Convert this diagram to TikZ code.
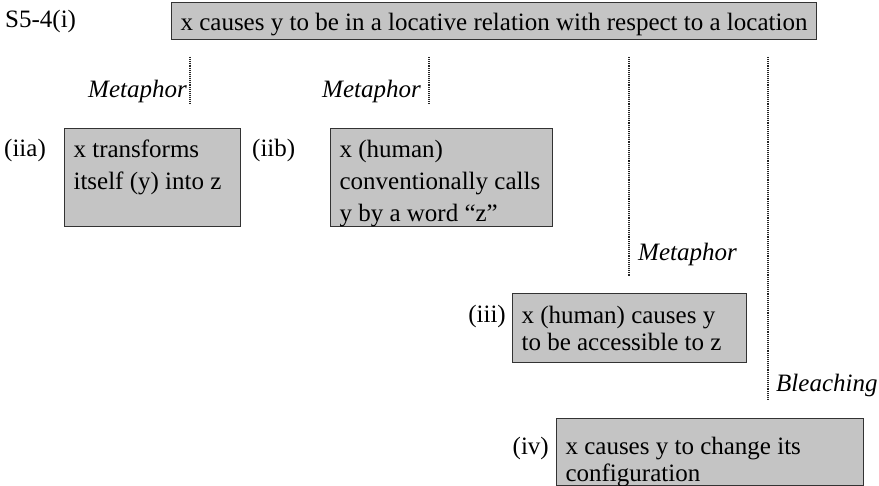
\documentclass[tikz,border=0pt]{standalone}
\usepackage{fontspec}
\setmainfont{Liberation Serif}

% text block inside a grey box: width, height, top gap, line skip, text
\newcommand\gtext[5]{\parbox[c][#2][t]{#1}{\fontsize{25}{#4}\selectfont
  \raggedright\leftskip=9pt\vspace*{#3}\strut #5}}

\tikzset{
  gbox/.style={draw=black!80, fill=black!23, line width=1.1pt,
    inner sep=0pt, anchor=north west},
  lab/.style={inner sep=0pt, font=\fontsize{25}{30}\selectfont},
  itlab/.style={lab, font=\fontsize{25}{30}\selectfont\itshape},
  dotline/.style={draw=black!85, line width=1.3pt, dash pattern=on 1pt off 0.9pt},
}

\begin{document}
\begin{tikzpicture}[x=1pt, y=-1pt]
  \useasboundingbox[fill=white] (0,0) rectangle (879,486);

  % source sense
  \node[lab, anchor=base west] (s54) at (5,28) {S5-4(i)};
  \node[gbox] (i) at (171,2)
    {\gtext{645pt}{37pt}{10pt}{25pt}{x causes y to be in a locative relation with respect to a location}};

  % extended senses
  \node[gbox] (iia) at (64,128)
    {\gtext{176pt}{98pt}{6.6pt}{32pt}{x transforms\\itself (y) into z}};
  \node[lab, anchor=base west] (liia) at (4,157) {(iia)};

  \node[gbox] (iib) at (330,128)
    {\gtext{222pt}{98pt}{6.6pt}{32pt}{x (human)\\conventionally calls\\y by a word ``z''}};
  \node[lab, anchor=base west] (liib) at (252,157) {(iib)};

  \node[gbox] (iii) at (512,293)
    {\gtext{234pt}{69pt}{11.5pt}{26.5pt}{x (human) causes y\\to be accessible to z}};
  \node[lab, anchor=base east] (liii) at (506,323) {(iii)};

  \node[gbox] (iv) at (556,418)
    {\gtext{307pt}{67pt}{17pt}{27pt}{x causes y to change its\\configuration}};
  \node[lab, anchor=base east] (liv) at (549,454) {(iv)};

  % extension paths
  \coordinate (p1a) at (190,57);  \coordinate (p1b) at (190,104);
  \coordinate (p2a) at (429,57);  \coordinate (p2b) at (429,103);
  \coordinate (p3a) at (629,57);  \coordinate (p3b) at (629,277);
  \coordinate (p4a) at (768,57);  \coordinate (p4b) at (768,400);
  \draw[dotline] (p1a) -- (p1b);
  \draw[dotline] (p2a) -- (p2b);
  \draw[dotline] (p3a) -- (p3b);
  \draw[dotline] (p4a) -- (p4b);

  \node[itlab, anchor=base east] (m1) at (187,98) {Metaphor};
  \node[itlab, anchor=base east] (m2) at (421,98) {Metaphor};
  \node[itlab, anchor=base west] (m3) at (638,261) {Metaphor};
  \node[itlab, anchor=base west] (bl) at (776,392) {Bleaching};
\end{tikzpicture}
\end{document}
